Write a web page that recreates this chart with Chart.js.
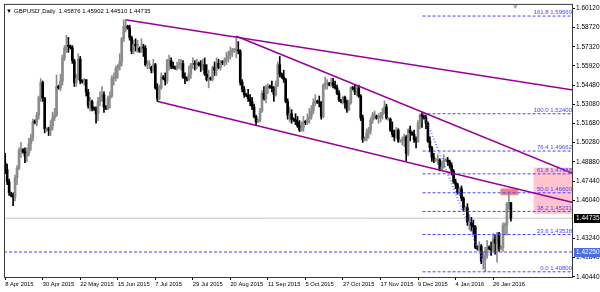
<!DOCTYPE html>
<html>
<head>
<meta charset="utf-8">
<script src="https://cdn.jsdelivr.net/npm/chart.js@4.4.1/dist/chart.umd.min.js"></script>
<style>
  html, body { margin: 0; padding: 0; background: #fff; }
  #wrap { width: 600px; height: 292px; }
</style>
</head>
<body>
<div id="wrap"><canvas id="fxChart" width="600" height="292"></canvas></div>
<script>
// GBPUSD daily, one bar per trading day (Sunday bars included), 8 Apr 2015 .. 5 Feb 2016
const symbolTitle = "GBPUSD',Daily  1.45876 1.45902 1.44510 1.44735";
const dateLabels = ['8 Apr 2015', '30 Apr 2015', '22 May 2015', '15 Jun 2015', '7 Jul 2015', '29 Jul 2015',
  '20 Aug 2015', '11 Sep 2015', '5 Oct 2015', '27 Oct 2015', '17 Nov 2015', '9 Dec 2015', '4 Jan 2016', '26 Jan 2016'];
const labelStep = 19;
const priceTicks = [1.60120, 1.58720, 1.57320, 1.55920, 1.54480, 1.53080, 1.51680, 1.50280,
  1.48880, 1.47440, 1.46040, 1.43240, 1.41840, 1.40440];

const opens = [
  1.4880,1.4830,1.4740,1.4650,1.4640,1.4630,1.4770,1.4840,1.4970,1.4975,
  1.4960,1.4930,1.4950,1.5020,1.5060,1.5185,1.5175,1.5230,1.5360,1.5470,
  1.5355,1.5125,1.5130,1.5120,1.5150,1.5210,1.5230,1.5440,1.5430,1.5480,
  1.5650,1.5720,1.5740,1.5735,1.5725,1.5630,1.5470,1.5500,1.5640,1.5480,
  1.5475,1.5490,1.5400,1.5300,1.5330,1.5280,1.5275,1.5240,1.5330,1.5360,
  1.5380,1.5285,1.5280,1.5350,1.5370,1.5500,1.5500,1.5570,1.5590,1.5620,
  1.5790,1.5880,1.5880,1.5870,1.5800,1.5700,1.5750,1.5740,1.5720,1.5700,
  1.5730,1.5720,1.5600,1.5600,1.5580,1.5560,1.5600,1.5430,1.5350,1.5430,
  1.5510,1.5500,1.5480,1.5630,1.5630,1.5590,1.5580,1.5575,1.5590,1.5610,
  1.5610,1.5510,1.5500,1.5490,1.5530,1.5600,1.5610,1.5600,1.5610,1.5600,
  1.5590,1.5600,1.5530,1.5490,1.5500,1.5495,1.5580,1.5560,1.5610,1.5580,
  1.5620,1.5615,1.5630,1.5650,1.5670,1.5700,1.5700,1.5710,1.5710,1.5700,
  1.5470,1.5420,1.5380,1.5375,1.5350,1.5330,1.5290,1.5220,1.5185,1.5190,
  1.5260,1.5390,1.5350,1.5430,1.5440,1.5435,1.5430,1.5380,1.5450,1.5600,
  1.5530,1.5510,1.5490,1.5330,1.5230,1.5240,1.5200,1.5195,1.5180,1.5150,
  1.5120,1.5140,1.5180,1.5175,1.5200,1.5220,1.5260,1.5320,1.5330,1.5325,
  1.5320,1.5220,1.5450,1.5460,1.5460,1.5455,1.5470,1.5450,1.5430,1.5390,
  1.5335,1.5330,1.5360,1.5320,1.5270,1.5320,1.5430,1.5425,1.5400,1.5430,
  1.5370,1.5210,1.5050,1.5060,1.5100,1.5120,1.5190,1.5230,1.5220,1.5210,
  1.5210,1.5230,1.5250,1.5290,1.5200,1.5200,1.5120,1.5090,1.5070,1.5120,
  1.5040,1.5040,1.5040,1.5070,1.4950,1.5120,1.5100,1.5090,1.5050,1.5040,
  1.5170,1.5230,1.5220,1.5210,1.5170,1.5040,1.4990,1.4920,1.4900,1.4900,
  1.4900,1.4830,1.4850,1.4900,1.4900,1.4890,1.4860,1.4820,1.4740,1.4720,
  1.4660,1.4690,1.4620,1.4540,1.4550,1.4440,1.4440,1.4420,1.4410,1.4260,
  1.4250,1.4270,1.4160,1.4170,1.4200,1.4260,1.4250,1.4240,1.4320,1.4290,
  1.4360,1.4250,1.4260,1.4420,1.4420,1.4580,1.45876
];
const highs = [
  1.4950,1.4870,1.4760,1.4665,1.4660,1.4790,1.4860,1.4990,1.5030,1.4985,
  1.4990,1.4990,1.5060,1.5090,1.5200,1.5195,1.5250,1.5370,1.5498,1.5480,
  1.5360,1.5140,1.5140,1.5190,1.5250,1.5280,1.5525,1.5450,1.5530,1.5670,
  1.5740,1.5815,1.5800,1.5745,1.5740,1.5640,1.5530,1.5680,1.5660,1.5490,
  1.5500,1.5490,1.5420,1.5360,1.5340,1.5290,1.5290,1.5360,1.5400,1.5440,
  1.5400,1.5300,1.5370,1.5400,1.5520,1.5540,1.5590,1.5600,1.5680,1.5800,
  1.5930,1.5920,1.5890,1.5890,1.5810,1.5780,1.5790,1.5780,1.5730,1.5790,
  1.5750,1.5740,1.5630,1.5630,1.5590,1.5640,1.5610,1.5460,1.5450,1.5540,
  1.5520,1.5540,1.5640,1.5670,1.5650,1.5620,1.5590,1.5620,1.5640,1.5640,
  1.5630,1.5540,1.5510,1.5590,1.5610,1.5650,1.5630,1.5640,1.5620,1.5630,
  1.5640,1.5650,1.5600,1.5560,1.5510,1.5590,1.5620,1.5650,1.5640,1.5630,
  1.5630,1.5650,1.5690,1.5700,1.5730,1.5720,1.5720,1.5810,1.5770,1.5710,
  1.5490,1.5440,1.5390,1.5420,1.5380,1.5360,1.5310,1.5230,1.5200,1.5280,
  1.5410,1.5440,1.5450,1.5460,1.5450,1.5480,1.5440,1.5480,1.5620,1.5660,
  1.5540,1.5560,1.5500,1.5350,1.5290,1.5270,1.5210,1.5240,1.5220,1.5190,
  1.5180,1.5220,1.5190,1.5240,1.5280,1.5300,1.5350,1.5380,1.5340,1.5370,
  1.5330,1.5460,1.5510,1.5490,1.5470,1.5500,1.5500,1.5480,1.5450,1.5410,
  1.5345,1.5370,1.5370,1.5340,1.5340,1.5440,1.5440,1.5450,1.5440,1.5450,
  1.5380,1.5230,1.5070,1.5130,1.5140,1.5210,1.5250,1.5260,1.5230,1.5240,
  1.5250,1.5280,1.5335,1.5310,1.5210,1.5210,1.5180,1.5120,1.5140,1.5130,
  1.5050,1.5070,1.5090,1.5080,1.5130,1.5150,1.5110,1.5120,1.5070,1.5190,
  1.5240,1.5248,1.5230,1.5230,1.5180,1.5070,1.5000,1.4950,1.4910,1.4940,
  1.4910,1.4890,1.4940,1.4910,1.4920,1.4900,1.4880,1.4830,1.4760,1.4730,
  1.4700,1.4710,1.4630,1.4560,1.4580,1.4500,1.4480,1.4460,1.4420,1.4270,
  1.4300,1.4280,1.4230,1.4260,1.4310,1.4270,1.4300,1.4360,1.4350,1.4370,
  1.4370,1.4270,1.4440,1.4440,1.4590,1.4668,1.45902
];
const lows = [
  1.4800,1.4720,1.4640,1.4630,1.4565,1.4600,1.4720,1.4830,1.4920,1.4950,
  1.4880,1.4890,1.4930,1.4970,1.5040,1.5165,1.5150,1.5200,1.5330,1.5330,
  1.5100,1.5110,1.5080,1.5080,1.5120,1.5190,1.5220,1.5420,1.5410,1.5450,
  1.5630,1.5690,1.5690,1.5715,1.5610,1.5440,1.5440,1.5490,1.5460,1.5465,
  1.5450,1.5370,1.5280,1.5260,1.5260,1.5265,1.5170,1.5190,1.5300,1.5330,
  1.5250,1.5270,1.5270,1.5280,1.5360,1.5450,1.5480,1.5500,1.5560,1.5590,
  1.5770,1.5840,1.5860,1.5780,1.5680,1.5680,1.5700,1.5690,1.5690,1.5690,
  1.5660,1.5590,1.5570,1.5570,1.5540,1.5540,1.5420,1.5330,1.5340,1.5420,
  1.5490,1.5450,1.5460,1.5560,1.5570,1.5570,1.5565,1.5560,1.5570,1.5560,
  1.5500,1.5460,1.5480,1.5480,1.5500,1.5570,1.5560,1.5570,1.5590,1.5550,
  1.5560,1.5520,1.5480,1.5430,1.5485,1.5480,1.5520,1.5520,1.5570,1.5560,
  1.5600,1.5590,1.5600,1.5620,1.5640,1.5660,1.5690,1.5650,1.5680,1.5450,
  1.5400,1.5360,1.5365,1.5330,1.5300,1.5270,1.5210,1.5160,1.5175,1.5180,
  1.5250,1.5340,1.5320,1.5390,1.5425,1.5400,1.5330,1.5370,1.5440,1.5510,
  1.5500,1.5470,1.5320,1.5200,1.5180,1.5170,1.5185,1.5160,1.5140,1.5110,
  1.5110,1.5110,1.5160,1.5160,1.5170,1.5200,1.5240,1.5300,1.5315,1.5290,
  1.5200,1.5210,1.5420,1.5420,1.5445,1.5440,1.5430,1.5420,1.5380,1.5330,
  1.5320,1.5310,1.5280,1.5250,1.5260,1.5310,1.5415,1.5380,1.5370,1.5360,
  1.5190,1.5030,1.5040,1.5040,1.5060,1.5090,1.5170,1.5200,1.5200,1.5170,
  1.5180,1.5200,1.5240,1.5200,1.5190,1.5110,1.5070,1.5040,1.5060,1.5030,
  1.5030,1.5010,1.5000,1.4895,1.4930,1.5040,1.5080,1.5030,1.4990,1.5030,
  1.5130,1.5140,1.5200,1.5130,1.5030,1.4960,1.4890,1.4880,1.4890,1.4870,
  1.4820,1.4820,1.4840,1.4890,1.4860,1.4840,1.4790,1.4730,1.4690,1.4650,
  1.4640,1.4600,1.4530,1.4530,1.4420,1.4390,1.4380,1.4350,1.4250,1.4240,
  1.4230,1.4140,1.4100,1.4080,1.4180,1.4240,1.4200,1.4220,1.4210,1.4150,
  1.4230,1.4240,1.4230,1.4350,1.4350,1.4540,1.44510
];
const closes = [
  1.4830,1.4740,1.4660,1.4640,1.4630,1.4770,1.4840,1.4970,1.4970,1.4960,
  1.4930,1.4950,1.5020,1.5060,1.5180,1.5175,1.5230,1.5360,1.5470,1.5355,
  1.5130,1.5130,1.5120,1.5150,1.5210,1.5230,1.5440,1.5430,1.5480,1.5650,
  1.5720,1.5740,1.5735,1.5725,1.5630,1.5470,1.5500,1.5640,1.5480,1.5475,
  1.5490,1.5400,1.5300,1.5330,1.5280,1.5275,1.5240,1.5330,1.5360,1.5380,
  1.5290,1.5280,1.5350,1.5370,1.5500,1.5500,1.5570,1.5590,1.5620,1.5790,
  1.5880,1.5880,1.5870,1.5800,1.5700,1.5750,1.5740,1.5740,1.5700,1.5730,
  1.5720,1.5600,1.5600,1.5600,1.5560,1.5600,1.5430,1.5350,1.5430,1.5510,
  1.5500,1.5480,1.5630,1.5630,1.5590,1.5580,1.5575,1.5590,1.5610,1.5610,
  1.5510,1.5500,1.5490,1.5530,1.5600,1.5610,1.5600,1.5610,1.5600,1.5590,
  1.5600,1.5530,1.5490,1.5500,1.5495,1.5580,1.5560,1.5610,1.5580,1.5620,
  1.5615,1.5630,1.5650,1.5670,1.5700,1.5700,1.5710,1.5710,1.5700,1.5470,
  1.5420,1.5380,1.5375,1.5350,1.5330,1.5290,1.5220,1.5180,1.5190,1.5260,
  1.5390,1.5350,1.5430,1.5440,1.5435,1.5430,1.5380,1.5450,1.5600,1.5530,
  1.5510,1.5490,1.5330,1.5230,1.5240,1.5200,1.5195,1.5180,1.5150,1.5120,
  1.5140,1.5180,1.5175,1.5200,1.5220,1.5260,1.5320,1.5330,1.5325,1.5320,
  1.5220,1.5450,1.5460,1.5460,1.5455,1.5470,1.5450,1.5430,1.5390,1.5340,
  1.5330,1.5360,1.5320,1.5270,1.5320,1.5430,1.5425,1.5400,1.5430,1.5370,
  1.5210,1.5050,1.5060,1.5100,1.5120,1.5190,1.5230,1.5230,1.5210,1.5210,
  1.5230,1.5250,1.5290,1.5210,1.5200,1.5120,1.5090,1.5070,1.5120,1.5040,
  1.5040,1.5040,1.5070,1.4950,1.5120,1.5100,1.5090,1.5050,1.5040,1.5170,
  1.5230,1.5220,1.5210,1.5170,1.5040,1.4990,1.4920,1.4900,1.4900,1.4900,
  1.4830,1.4850,1.4900,1.4900,1.4890,1.4860,1.4820,1.4740,1.4720,1.4660,
  1.4690,1.4620,1.4540,1.4550,1.4440,1.4440,1.4420,1.4410,1.4260,1.4250,
  1.4270,1.4160,1.4170,1.4200,1.4260,1.4250,1.4240,1.4320,1.4290,1.4360,
  1.4250,1.4260,1.4420,1.4420,1.4580,1.4588,1.44735
];

// channel lines: [bar, price, bar, price]
const channelLines = [
  [60.8, 1.5930, 287.45, 1.5414],
  [117.1, 1.5809, 287.45, 1.4801],
  [77.3, 1.5330, 287.45, 1.4588]
];
// fibonacci retracement from the December high to the January low
const fibNames = ['161.8', '100.0', '76.4', '61.8', '50.0', '38.2', '23.6', '0.0'];
const fibPrices = [1.59569, 1.52400, 1.49662, 1.47988, 1.46600, 1.45231, 1.43538, 1.40800];
const fibStartBar = 211.3;
const fibDiagonals = [
  [211.6, 1.5240, 243.6, 1.4080],
  [215.4, 1.5119, 243.1, 1.4128]
];
const zoneBars = [[267.5, 287.45], [250.7, 259.7]];
const zonePrices = [[1.4845, 1.4505], [1.4692, 1.4642]];
const lastPrice = 1.44735;
const alertPrice = 1.42250;
const shiftMarkBar = 258.2;

const xMin = -0.6, xMax = 287.45;
const yMin = 1.40345, yMax = 1.60388;

Chart.defaults.font.family = "'Liberation Sans', Arial, sans-serif";
Chart.defaults.font.size = 6.5;
Chart.defaults.color = '#000';

const bullColor = '#8c8c8c';
const bearColor = '#000000';
function candleColor(ctx) {
  const i = ctx.dataIndex;
  return closes[i] >= opens[i] ? bullColor : bearColor;
}

function seg(l) {
  return [{ x: l[0], y: l[1] }, { x: l[2], y: l[3] }];
}

const datasets = [];

channelLines.forEach(l => {
  datasets.push({
    type: 'line', data: seg(l), borderColor: '#990099', borderWidth: 1.6,
    pointRadius: 0, order: 1
  });
});
fibPrices.forEach(p => {
  datasets.push({
    type: 'line', data: seg([fibStartBar, p, xMax, p]), borderColor: '#4646ff', borderWidth: 1,
    borderDash: [3, 2], pointRadius: 0, order: 3
  });
});
fibDiagonals.forEach(l => {
  datasets.push({
    type: 'line', data: seg(l), borderColor: '#6a6aff', borderWidth: 1,
    borderDash: [1, 2], pointRadius: 0, order: 3
  });
});
datasets.push({
  type: 'line', data: seg([xMin, alertPrice, xMax, alertPrice]), borderColor: '#4646ff', borderWidth: 1,
  borderDash: [3, 2], pointRadius: 0, order: 3
});
datasets.push({
  type: 'line', data: seg([xMin, lastPrice, xMax, lastPrice]), borderColor: '#c8c8c8', borderWidth: 1,
  pointRadius: 0, order: 20
});
datasets.push({
  type: 'scatter', data: [{ x: shiftMarkBar, y: yMax - 0.0012 }], pointStyle: 'triangle', rotation: 180,
  pointRadius: 2.5, backgroundColor: '#a0a0a0', borderWidth: 0, order: 2
});

// candles: wick then body
datasets.push({
  type: 'bar',
  data: opens.map((o, i) => ({ x: i, y: [lows[i], highs[i]] })),
  backgroundColor: candleColor, barThickness: 1, grouped: false, minBarLength: 1, order: 11
});
datasets.push({
  type: 'bar',
  data: opens.map((o, i) => ({ x: i, y: [Math.min(o, closes[i]), Math.max(o, closes[i])] })),
  backgroundColor: candleColor, barThickness: 2, grouped: false, minBarLength: 1, order: 10
});

const mtDecor = {
  id: 'mtDecor',
  beforeDatasetsDraw(chart) {
    const { ctx, chartArea: a, scales: { x, y } } = chart;
    const fills = ['#ffc4cf', '#f0847e'];
    ctx.save();
    ctx.beginPath();
    ctx.rect(a.left, a.top, a.right - a.left, a.bottom - a.top);
    ctx.clip();
    zoneBars.forEach((b, k) => {
      const x0 = x.getPixelForValue(b[0]);
      const x1 = x.getPixelForValue(b[1]);
      const y0 = y.getPixelForValue(zonePrices[k][0]);
      const y1 = y.getPixelForValue(zonePrices[k][1]);
      ctx.fillStyle = fills[k];
      ctx.fillRect(x0, y0, x1 - x0, y1 - y0);
    });
    ctx.restore();
  },
  afterDraw(chart) {
    const { ctx, chartArea: a, scales: { x, y } } = chart;
    ctx.save();
    // fib level captions
    ctx.font = "6px 'Liberation Sans', Arial, sans-serif";
    ctx.fillStyle = '#4646ff';
    ctx.textAlign = 'right';
    ctx.textBaseline = 'bottom';
    fibPrices.forEach((p, k) => {
      ctx.fillText(fibNames[k] + ' ' + p.toFixed(5), a.right - 1, y.getPixelForValue(p) - 0.5);
    });
    // frame
    ctx.strokeStyle = '#3a3a3a';
    ctx.lineWidth = 1;
    ctx.strokeRect(a.left + 0.5, a.top - 0.5, a.right - a.left - 1, a.bottom - a.top);
    // price boxes on the axis
    ctx.font = "6.5px 'Liberation Sans', Arial, sans-serif";
    ctx.textAlign = 'left';
    ctx.textBaseline = 'middle';
    [[lastPrice, '#000000'], [alertPrice, '#4a6ee6']].forEach(([p, bg]) => {
      const py = y.getPixelForValue(p);
      ctx.fillStyle = bg;
      ctx.fillRect(a.right + 1, Math.round(py) - 4, 26, 9);
      ctx.fillStyle = '#ffffff';
      ctx.fillText(p.toFixed(5), a.right + 3, py + 0.5);
    });
    // symbol caption
    ctx.fillStyle = '#000';
    ctx.font = "6px 'Liberation Sans', Arial, sans-serif";
    ctx.fillText('\u25BC', a.left + 2, a.top + 6);
    ctx.fillText(symbolTitle, a.left + 10, a.top + 6);
    ctx.restore();
  }
};

new Chart(document.getElementById('fxChart'), {
  type: 'bar',
  data: { datasets: datasets },
  options: {
    responsive: false,
    animation: false,
    events: [],
    layout: { padding: { top: 1, left: 1.5, right: 0, bottom: 0 } },
    plugins: { legend: { display: false }, tooltip: { enabled: false } },
    scales: {
      x: {
        type: 'linear',
        min: xMin,
        max: xMax,
        offset: false,
        grid: { display: true, offset: false, drawOnChartArea: false, drawTicks: true, tickLength: 2, color: '#000' },
        border: { display: false },
        afterBuildTicks: scale => {
          scale.ticks = dateLabels.map((d, k) => ({ value: k * labelStep }));
        },
        afterFit: scale => { scale.height = 14; },
        ticks: {
          autoSkip: false,
          maxRotation: 0,
          align: 'start',
          padding: 1,
          font: { size: 5.8 },
          callback: (value, index) => dateLabels[index]
        }
      },
      y: {
        type: 'linear',
        position: 'right',
        min: yMin,
        max: yMax,
        grid: { display: true, drawOnChartArea: false, drawTicks: true, tickLength: 2, color: '#000' },
        border: { display: false },
        afterBuildTicks: scale => {
          scale.ticks = priceTicks.map(v => ({ value: v }));
        },
        afterFit: scale => { scale.width = 27; },
        ticks: {
          autoSkip: false,
          padding: 1,
          callback: value => value.toFixed(5)
        }
      }
    }
  },
  plugins: [mtDecor]
});
</script>
</body>
</html>
